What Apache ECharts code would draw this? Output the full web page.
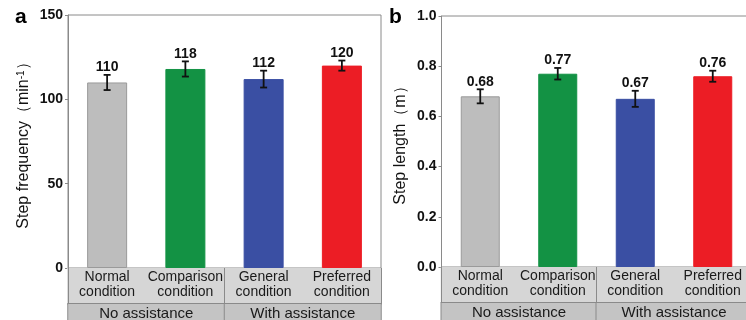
<!DOCTYPE html>
<html>
<head>
<meta charset="utf-8">
<script src="https://cdn.jsdelivr.net/npm/echarts@6/dist/echarts.min.js"></script>
<style>
  html, body { margin: 0; padding: 0; background: #fff; }
  #chart { width: 746px; height: 320px; }
</style>
</head>
<body>
<div id="chart"></div>
<script>
// Gait parameters under four walking conditions
const categories = ['Normal\ncondition', 'Comparison\ncondition', 'General\ncondition', 'Preferred\ncondition'];
const groups = ['No assistance', 'With assistance'];
const barColors = ['#bdbdbd', '#139244', '#3a4fa3', '#ec1d25'];

// Step frequency (min^-1): mean and standard deviation
const freqMean = [110, 118, 112, 120];
const freqErr = [4.5, 4.5, 5, 3];

// Step length (m): mean and standard deviation
const lenMean = [0.68, 0.77, 0.67, 0.76];
const lenErr = [0.028, 0.023, 0.032, 0.022];

const FONT = '"Liberation Sans", Arial, Helvetica, sans-serif';
const AXIS_GRAY = '#8a8a8a';

function errorBars(fmt) {
  return function (params, api) {
    const i = api.value(0), m = api.value(1), e = api.value(2);
    const top = api.coord([i, m + e]);
    const bot = api.coord([i, m - e]);
    const cap = 3.5;
    const st = { stroke: '#111', lineWidth: 1.8 };
    return {
      type: 'group',
      children: [
        { type: 'line', shape: { x1: top[0], y1: top[1], x2: bot[0], y2: bot[1] }, style: st },
        { type: 'line', shape: { x1: top[0] - cap, y1: top[1], x2: top[0] + cap, y2: top[1] }, style: st },
        { type: 'line', shape: { x1: bot[0] - cap, y1: bot[1], x2: bot[0] + cap, y2: bot[1] }, style: st },
        {
          type: 'text', x: top[0], y: top[1] - 0.5,
          style: {
            text: fmt(m), fill: '#111', font: 'bold 14px ' + FONT,
            align: 'center', verticalAlign: 'bottom'
          }
        }
      ]
    };
  };
}

function catAxis(gridIndex, cellW) {
  return {
    type: 'category', gridIndex: gridIndex, data: categories, position: 'bottom',
    axisLine: { show: true, lineStyle: { color: AXIS_GRAY, width: 1 } },
    axisTick: { show: true, inside: true, length: 4, alignWithLabel: true, lineStyle: { color: AXIS_GRAY } },
    axisLabel: {
      interval: 0, margin: 0, fontFamily: FONT, fontSize: 14, color: '#1a1a1a',
      lineHeight: 15, width: cellW, align: 'center', verticalAlign: 'top',
      backgroundColor: '#d6d6d6', padding: [2, 0, 4, 0]
    },
    splitLine: { show: false }, z: 1
  };
}

function groupAxis(gridIndex, cellW) {
  return {
    type: 'category', gridIndex: gridIndex, data: groups, position: 'bottom', offset: 36,
    axisLine: { show: true, lineStyle: { color: AXIS_GRAY, width: 1 } },
    axisTick: { show: true, inside: true, length: 36, alignWithLabel: false, lineStyle: { color: AXIS_GRAY } },
    axisLabel: {
      interval: 0, margin: 0, fontFamily: FONT, fontSize: 15, color: '#1a1a1a',
      lineHeight: 18, width: cellW, align: 'center', verticalAlign: 'top',
      backgroundColor: '#c4c4c4', borderColor: AXIS_GRAY, borderWidth: 1, padding: [1, 0, 5, 0]
    },
    splitLine: { show: false }, z: 3
  };
}

function valAxis(gridIndex, max, interval, name, nameGap, fmt) {
  return {
    type: 'value', gridIndex: gridIndex, min: 0, max: max, interval: interval,
    name: name, nameLocation: 'middle', nameGap: nameGap,
    nameTextStyle: {
      fontFamily: FONT, fontSize: 16, color: '#111',
      rich: { sup: { fontFamily: FONT, fontSize: 10, color: '#111', verticalAlign: 'top', lineHeight: 12 } }
    },
    axisLine: { show: true, lineStyle: { color: AXIS_GRAY, width: 1 } },
    axisTick: { show: true, inside: false, length: 3, lineStyle: { color: AXIS_GRAY } },
    axisLabel: { margin: 5, fontFamily: FONT, fontSize: 14, fontWeight: 'bold', color: '#111', formatter: fmt },
    splitLine: { show: false }
  };
}

function barData(values) {
  return values.map(function (v, i) {
    return {
      value: v,
      itemStyle: { color: barColors[i], borderColor: i === 0 ? '#9a9a9a' : barColors[i], borderWidth: 1 }
    };
  });
}

const chart = echarts.init(document.getElementById('chart'), null, { renderer: 'canvas' });

chart.setOption({
  backgroundColor: '#fff',
  animation: false,
  title: [
    { text: 'a', left: 15, top: 7, padding: 0, textStyle: { fontFamily: FONT, fontSize: 21, fontWeight: 'bold', color: '#000' } },
    { text: 'b', left: 389, top: 7, padding: 0, textStyle: { fontFamily: FONT, fontSize: 21, fontWeight: 'bold', color: '#000' } }
  ],
  grid: [
    { left: 68, top: 15, width: 313, height: 253, show: true, borderColor: AXIS_GRAY, borderWidth: 1, backgroundColor: 'transparent', containLabel: false, outerBoundsMode: 'none' },
    { left: 441.5, top: 16, width: 310, height: 251, show: true, borderColor: AXIS_GRAY, borderWidth: 1, backgroundColor: 'transparent', containLabel: false, outerBoundsMode: 'none' }
  ],
  xAxis: [
    catAxis(0, 80), groupAxis(0, 156),
    catAxis(1, 79), groupAxis(1, 155)
  ],
  yAxis: [
    valAxis(0, 150, 50, 'Step frequency（min{sup|-1}）', 36, function (v) { return String(v); }),
    valAxis(1, 1.0, 0.2, 'Step length（m）', 33, function (v) { return v.toFixed(1); })
  ],
  series: [
    { type: 'bar', xAxisIndex: 0, yAxisIndex: 0, barWidth: 40, data: barData(freqMean), z: 2 },
    {
      type: 'custom', xAxisIndex: 0, yAxisIndex: 0, z: 4,
      renderItem: errorBars(function (m) { return String(m); }),
      encode: { x: 0, y: 1 },
      data: freqMean.map(function (m, i) { return [i, m, freqErr[i]]; })
    },
    { type: 'bar', xAxisIndex: 2, yAxisIndex: 1, barWidth: 39, data: barData(lenMean), z: 2 },
    {
      type: 'custom', xAxisIndex: 2, yAxisIndex: 1, z: 4,
      renderItem: errorBars(function (m) { return m.toFixed(2); }),
      encode: { x: 0, y: 1 },
      data: lenMean.map(function (m, i) { return [i, m, lenErr[i]]; })
    }
  ]
});
</script>
</body>
</html>
